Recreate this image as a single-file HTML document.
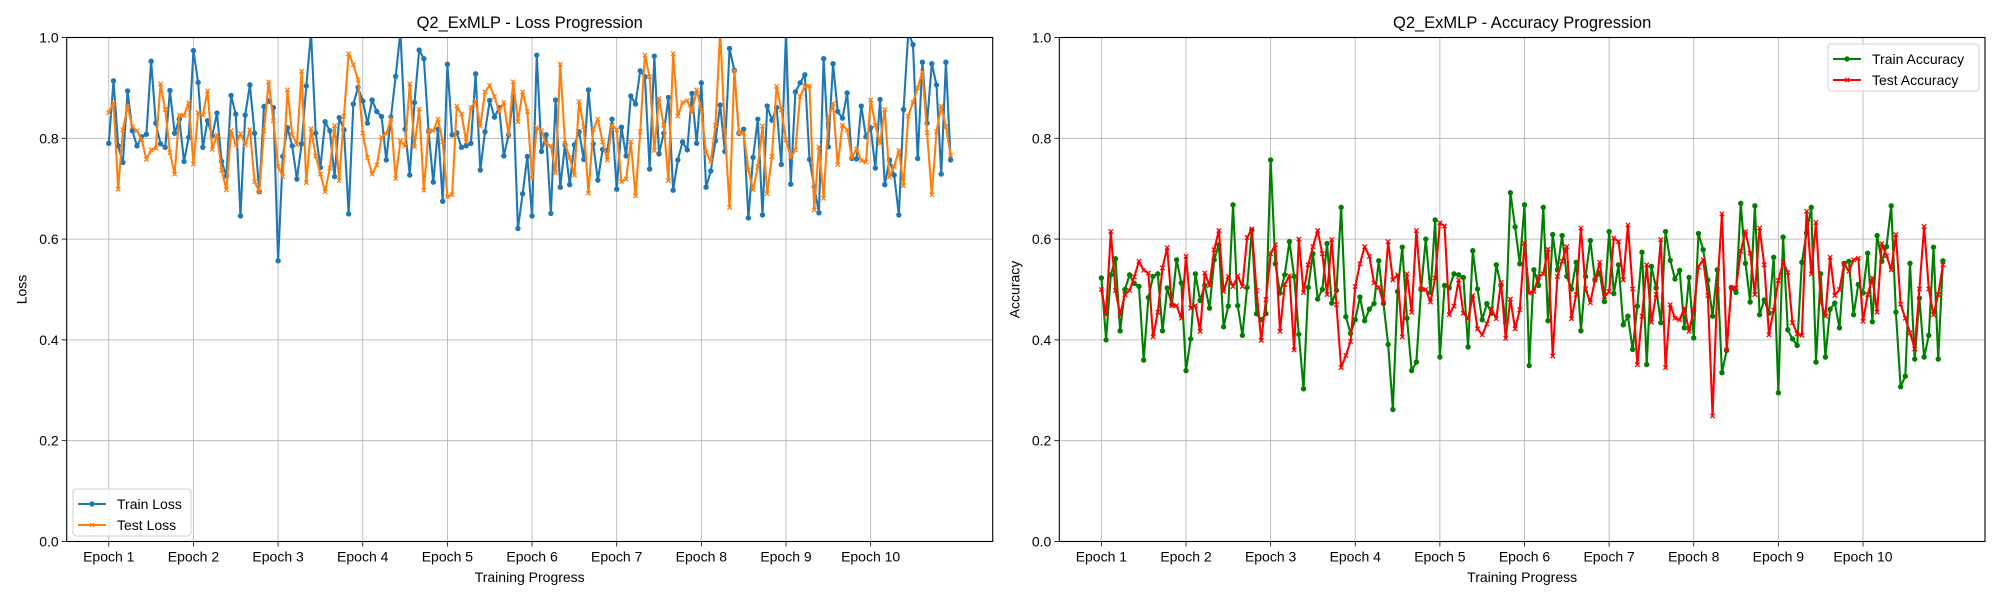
<!DOCTYPE html>
<html><head><meta charset="utf-8"><style>
html,body{margin:0;padding:0;background:#fff;}
svg{display:block;font-family:"Liberation Sans","DejaVu Sans",sans-serif;}
</style></head><body>
<svg id="fig" width="2000" height="600" viewBox="0 0 2000 600" xmlns="http://www.w3.org/2000/svg">
<rect width="2000" height="600" fill="#fff"/>
<defs>
<clipPath id="clipL"><rect x="66.7" y="37.5" width="926" height="504"/></clipPath>
<clipPath id="clipR"><rect x="1059.3" y="37.5" width="925.7" height="504"/></clipPath>
</defs>
<g id="left"></g>
<g id="right"></g>
</svg>
<script>
const epochLabels = ["Epoch 1","Epoch 2","Epoch 3","Epoch 4","Epoch 5","Epoch 6","Epoch 7","Epoch 8","Epoch 9","Epoch 10"];
const pointsPerEpoch = 18;
const yTicks = [0.0,0.2,0.4,0.6,0.8,1.0];
const trainLoss = [0.79,0.914,0.785,0.752,0.894,0.815,0.785,0.803,0.808,0.953,0.83,0.789,0.782,0.895,0.81,0.838,0.754,0.802,
0.974,0.911,0.782,0.835,0.805,0.85,0.754,0.725,0.885,0.848,0.646,0.846,0.906,0.81,0.694,0.863,0.874,0.861,
0.557,0.764,0.821,0.785,0.719,0.789,0.904,1.01,0.81,0.742,0.833,0.815,0.724,0.841,0.817,0.65,0.868,0.901,
0.874,0.83,0.876,0.853,0.843,0.757,0.842,0.923,1.01,0.818,0.727,0.871,0.975,0.958,0.813,0.713,0.818,0.675,
0.947,0.807,0.811,0.782,0.785,0.79,0.928,0.737,0.813,0.875,0.842,0.861,0.765,0.806,0.883,0.621,0.69,0.764,
0.646,0.965,0.774,0.807,0.651,0.876,0.703,0.787,0.708,0.787,0.813,0.758,0.896,0.789,0.717,0.778,0.776,0.838,
0.699,0.822,0.765,0.884,0.868,0.934,0.922,0.739,0.963,0.769,0.81,0.881,0.697,0.757,0.793,0.777,0.889,0.79,
0.91,0.703,0.735,0.795,0.866,0.774,0.978,0.935,0.81,0.818,0.642,0.762,0.838,0.648,0.864,0.836,0.861,0.748,
1.01,0.709,0.892,0.91,0.926,0.758,0.704,0.652,0.958,0.783,0.948,0.853,0.84,0.89,0.76,0.759,0.864,0.803,
0.821,0.741,0.877,0.708,0.757,0.727,0.648,0.857,1.01,0.986,0.76,0.951,0.83,0.948,0.906,0.729,0.951,0.757];
const testLoss = [0.851,0.871,0.699,0.817,0.864,0.823,0.815,0.797,0.758,0.777,0.78,0.908,0.857,0.772,0.729,0.846,0.845,0.871,
0.749,0.851,0.846,0.894,0.778,0.807,0.737,0.698,0.815,0.787,0.809,0.787,0.817,0.714,0.694,0.815,0.912,0.835,
0.744,0.724,0.896,0.807,0.787,0.933,0.712,0.819,0.765,0.729,0.694,0.741,0.825,0.716,0.844,0.968,0.946,0.916,
0.81,0.762,0.729,0.747,0.802,0.809,0.838,0.72,0.795,0.785,0.908,0.783,0.858,0.697,0.815,0.815,0.838,0.793,
0.684,0.688,0.864,0.848,0.793,0.861,0.873,0.824,0.892,0.905,0.883,0.853,0.871,0.807,0.912,0.833,0.892,0.853,
0.721,0.821,0.815,0.789,0.785,0.732,0.947,0.79,0.762,0.727,0.873,0.823,0.691,0.818,0.838,0.793,0.757,0.826,
0.817,0.714,0.719,0.793,0.686,0.813,0.965,0.922,0.776,0.879,0.826,0.716,0.968,0.844,0.871,0.875,0.851,0.896,
0.856,0.772,0.754,0.826,1.01,0.815,0.663,0.934,0.81,0.811,0.737,0.698,0.744,0.824,0.69,0.764,0.903,0.856,
0.797,0.762,0.777,0.883,0.903,0.904,0.658,0.783,0.681,0.838,0.869,0.748,0.826,0.817,0.762,0.779,0.756,0.753,
0.876,0.826,0.79,0.857,0.723,0.744,0.776,0.706,0.844,0.871,0.9,0.932,0.811,0.688,0.813,0.864,0.823,0.766];
const trainAcc = [0.523,0.4,0.529,0.561,0.418,0.5,0.529,0.512,0.506,0.36,0.484,0.526,0.531,0.418,0.503,0.47,0.559,0.513,
0.339,0.402,0.531,0.478,0.508,0.463,0.559,0.589,0.426,0.467,0.668,0.468,0.409,0.504,0.618,0.452,0.44,0.452,
0.757,0.551,0.493,0.529,0.595,0.526,0.411,0.303,0.504,0.571,0.481,0.5,0.591,0.473,0.498,0.663,0.446,0.413,
0.44,0.485,0.438,0.461,0.472,0.557,0.472,0.391,0.262,0.496,0.584,0.443,0.339,0.356,0.5,0.6,0.494,0.638,
0.366,0.508,0.503,0.531,0.529,0.524,0.386,0.577,0.501,0.44,0.472,0.453,0.549,0.508,0.434,0.692,0.624,0.551,
0.668,0.349,0.539,0.508,0.663,0.438,0.609,0.539,0.607,0.526,0.501,0.554,0.418,0.526,0.597,0.519,0.533,0.476,
0.615,0.492,0.549,0.43,0.447,0.381,0.467,0.574,0.351,0.546,0.503,0.434,0.615,0.558,0.521,0.538,0.424,0.524,
0.404,0.611,0.579,0.519,0.447,0.539,0.335,0.379,0.504,0.494,0.671,0.552,0.475,0.666,0.45,0.479,0.453,0.564,
0.295,0.604,0.42,0.402,0.389,0.554,0.612,0.663,0.356,0.531,0.366,0.461,0.473,0.424,0.552,0.556,0.45,0.51,
0.493,0.572,0.436,0.607,0.556,0.585,0.666,0.455,0.307,0.328,0.552,0.362,0.483,0.366,0.409,0.584,0.362,0.557];
const testAcc = [0.5,0.45,0.615,0.498,0.45,0.49,0.498,0.525,0.556,0.538,0.533,0.406,0.455,0.543,0.583,0.468,0.468,0.443,
0.566,0.463,0.468,0.417,0.533,0.508,0.579,0.617,0.496,0.526,0.506,0.527,0.506,0.603,0.62,0.498,0.399,0.48,
0.571,0.589,0.417,0.51,0.527,0.38,0.6,0.494,0.549,0.585,0.617,0.571,0.49,0.599,0.47,0.345,0.369,0.397,
0.506,0.551,0.585,0.566,0.513,0.504,0.474,0.595,0.519,0.529,0.406,0.531,0.455,0.617,0.501,0.5,0.475,0.523,
0.632,0.626,0.45,0.467,0.519,0.453,0.442,0.488,0.422,0.41,0.432,0.461,0.442,0.514,0.403,0.481,0.422,0.46,
0.592,0.493,0.496,0.525,0.531,0.58,0.368,0.526,0.556,0.585,0.442,0.49,0.622,0.501,0.474,0.519,0.554,0.486,
0.496,0.602,0.595,0.519,0.628,0.501,0.351,0.447,0.549,0.435,0.49,0.599,0.345,0.47,0.443,0.44,0.463,0.417,
0.46,0.545,0.559,0.488,0.249,0.5,0.65,0.38,0.503,0.503,0.576,0.615,0.572,0.49,0.622,0.549,0.41,0.459,
0.518,0.554,0.534,0.434,0.412,0.409,0.655,0.531,0.633,0.477,0.447,0.564,0.488,0.5,0.551,0.536,0.559,0.562,
0.437,0.49,0.523,0.455,0.591,0.567,0.539,0.609,0.471,0.443,0.414,0.382,0.501,0.625,0.501,0.45,0.49,0.549];

const NS = "http://www.w3.org/2000/svg";
function mk(tag, attrs, parent){const e=document.createElementNS(NS,tag);for(const k in attrs)e.setAttribute(k,attrs[k]);parent.appendChild(e);return e;}

function drawChart(g, x0, x1, clipId, title, ylabel, series, legendPos){
  const y0=37.5, y1=541.5;
  const n = series[0].values.length;
  const lo = -0.05*(n-1), hi = (n-1)*1.05;
  const xs = i => x0 + (i-lo)/(hi-lo)*(x1-x0);
  const ys = v => y1 - v*(y1-y0);
  // grid
  yTicks.forEach(t=>{
    const l=mk('line',{x1:x0,x2:x1,y1:ys(t),y2:ys(t),stroke:'#b0b0b0','stroke-width':0.8},g);
     
  });
  epochLabels.forEach((lab,k)=>{
    const x=xs(k*pointsPerEpoch);
    const l=mk('line',{x1:x,x2:x,y1:y0,y2:y1,stroke:'#b0b0b0','stroke-width':0.8},g);
     
    mk('line',{x1:x,x2:x,y1:y1,y2:y1+5,stroke:'#000','stroke-width':0.8},g);
    const t=mk('text',{x:x,y:y1+20,'text-anchor':'middle','font-size':14,fill:'#000'},g);
    t.textContent=lab;
     
  });
  yTicks.forEach(v=>{
    mk('line',{x1:x0-5,x2:x0,y1:ys(v),y2:ys(v),stroke:'#000','stroke-width':0.8},g);
    const t=mk('text',{x:x0-8,y:ys(v)+5,'text-anchor':'end','font-size':14,fill:'#000'},g);
    t.textContent=v.toFixed(1);
     
  });
  // series
  const sg=mk('g',{'clip-path':'url(#'+clipId+')'},g);
  series.forEach(s=>{
    const pts=s.values.map((v,i)=>xs(i).toFixed(2)+','+ys(v).toFixed(2)).join(' ');
    const pl=mk('polyline',{points:pts,fill:'none',stroke:s.color,'stroke-width':2.1,'stroke-linejoin':'round'},sg);
     
    s.values.forEach((v,i)=>{
      const cx=xs(i), cy=ys(v);
      let m;
      if(s.marker==='o'){ m=mk('circle',{cx:cx,cy:cy,r:2.7,fill:s.color},sg); }
      else { m=mk('path',{d:`M${cx-2.2},${cy-2.2}L${cx+2.2},${cy+2.2}M${cx-2.2},${cy+2.2}L${cx+2.2},${cy-2.2}`,stroke:s.color,'stroke-width':1.3},sg); }
       
    });
  });
  // frame
  const fr=mk('rect',{x:x0,y:y0,width:x1-x0,height:y1-y0,fill:'none',stroke:'#000','stroke-width':1.1},g);
   
  const tt=mk('text',{x:(x0+x1)/2,y:28,'text-anchor':'middle','font-size':16.5,fill:'#000'},g);
  tt.textContent=title;
   
  const xl=mk('text',{x:(x0+x1)/2,y:582,'text-anchor':'middle','font-size':14,fill:'#000'},g);
  xl.textContent='Training Progress';
   
  const yc=(y0+y1)/2, yx=x0-40;
  const yl=mk('text',{x:yx,y:yc,'text-anchor':'middle','font-size':14,fill:'#000',transform:`rotate(-90 ${yx} ${yc})`},g);
  yl.textContent=ylabel;
   
  // legend
  const lg=mk('g',{},g);
   
  mk('rect',{x:legendPos.x,y:legendPos.y,width:legendPos.w,height:47,rx:3,fill:'#fff','fill-opacity':0.8,stroke:'#d0d0d0','stroke-width':1},lg);
  series.forEach((s,k)=>{
    const ly=legendPos.y+15+k*21;
    const e=mk('g',{},lg);
     
    mk('line',{x1:legendPos.x+5,x2:legendPos.x+33,y1:ly,y2:ly,stroke:s.color,'stroke-width':2.1},e);
    if(s.marker==='o') mk('circle',{cx:legendPos.x+19,cy:ly,r:2.7,fill:s.color},e);
    else mk('path',{d:`M${legendPos.x+17},${ly-2}L${legendPos.x+21},${ly+2}M${legendPos.x+17},${ly+2}L${legendPos.x+21},${ly-2}`,stroke:s.color,'stroke-width':1.3},e);
    const t=mk('text',{x:legendPos.x+44,y:ly+5,'font-size':14,fill:'#000'},e);
    t.textContent=s.label;
  });
}

drawChart(document.getElementById('left'),66.7,992.7,'clipL','Q2_ExMLP - Loss Progression','Loss',
  [{name:'train-loss',label:'Train Loss',values:trainLoss,color:'#1f77b4',marker:'o'},
   {name:'test-loss',label:'Test Loss',values:testLoss,color:'#ff7f0e',marker:'x'}],
  {x:73,y:489,w:118});
drawChart(document.getElementById('right'),1059.3,1985,'clipR','Q2_ExMLP - Accuracy Progression','Accuracy',
  [{name:'train-accuracy',label:'Train Accuracy',values:trainAcc,color:'#008000',marker:'o'},
   {name:'test-accuracy',label:'Test Accuracy',values:testAcc,color:'#ff0000',marker:'x'}],
  {x:1828,y:44,w:151});
</script>
</body></html>
